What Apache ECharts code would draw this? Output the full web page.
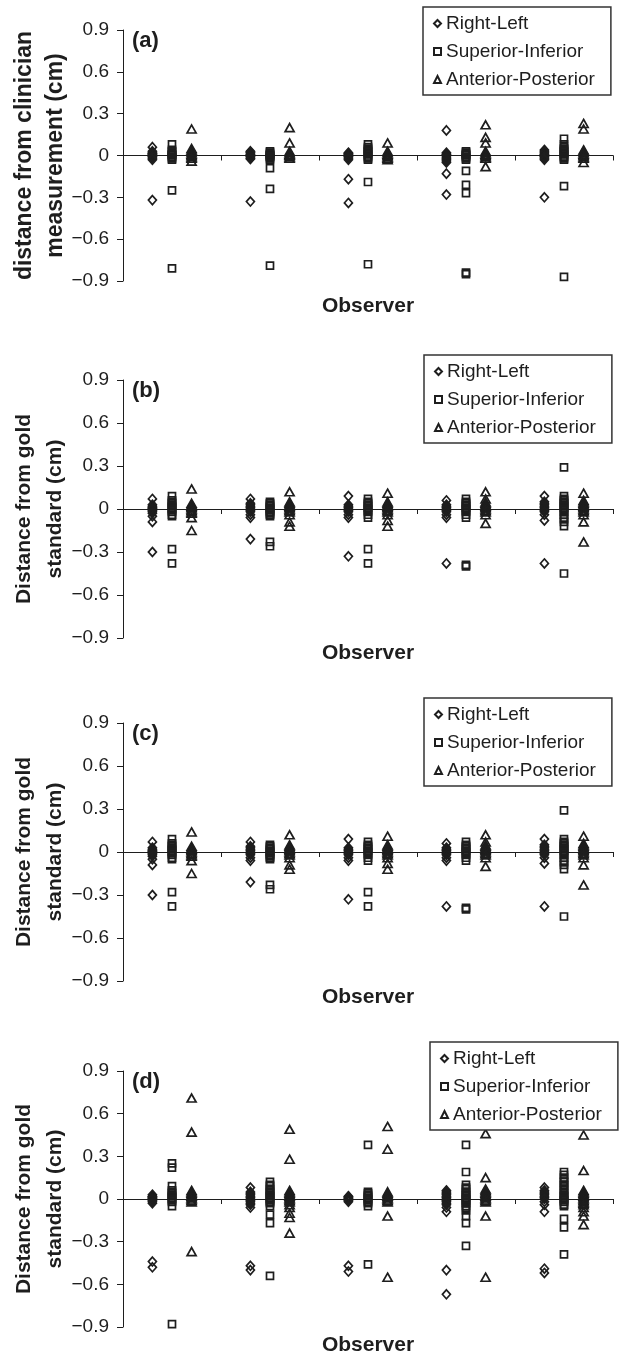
<!DOCTYPE html>
<html>
<head>
<meta charset="utf-8">
<script src="https://cdn.jsdelivr.net/npm/echarts@6/dist/echarts.min.js"></script>
<style>
html,body{margin:0;padding:0;background:#fff;}
#main{width:623px;height:1356px;}
</style>
</head>
<body>
<div id="main"></div>
<script>
var series_names=['Right-Left','Superior-Inferior','Anterior-Posterior'];
var observers=[1,2,3,4,5];
var panel_letters=['(a)','(b)','(c)','(d)'];
var panel_titles=['distance from clinician\nmeasurement (cm)','Distance from gold\nstandard (cm)','Distance from gold\nstandard (cm)','Distance from gold\nstandard (cm)'];
var x_title='Observer';

// values per observer (dense groups near 0 estimated)
var a_right_left=[
	[0.06,0.03,0.02,0.015,0.01,0.005,0,-0.005,-0.01,-0.02,-0.03,-0.32],
	[0.03,0.025,0.02,0.01,0.005,0,-0.005,-0.01,-0.02,-0.025,-0.33],
	[0.02,0.015,0.01,0.005,0,-0.005,-0.01,-0.02,-0.03,-0.17,-0.34],
	[0.18,0.02,0.01,0.005,0,-0.01,-0.02,-0.03,-0.04,-0.05,-0.13,-0.28],
	[0.04,0.03,0.02,0.01,0.005,0,-0.005,-0.01,-0.02,-0.03,-0.30]
];
var a_superior_inferior=[
	[0.08,0.04,0.03,0.02,0.01,0.005,0,-0.01,-0.02,-0.03,-0.25,-0.81],
	[0.03,0.02,0.01,0.005,0,-0.005,-0.01,-0.02,-0.03,-0.09,-0.24,-0.79],
	[0.08,0.06,0.05,0.04,0.03,0.02,0.01,0,-0.01,-0.02,-0.03,-0.19,-0.78],
	[0.03,0.02,0.01,0.005,0,-0.01,-0.02,-0.03,-0.11,-0.21,-0.27,-0.84,-0.85],
	[0.12,0.08,0.06,0.05,0.04,0.03,0.02,0.01,0,-0.01,-0.02,-0.03,-0.22,-0.87]
];
var a_anterior_posterior=[
	[0.19,0.05,0.04,0.03,0.02,0.01,0,-0.01,-0.02,-0.04],
	[0.20,0.09,0.03,0.02,0.01,0.005,0,-0.01,-0.02],
	[0.09,0.03,0.02,0.01,0,-0.01,-0.02,-0.03],
	[0.22,0.13,0.09,0.03,0.02,0.01,0,-0.01,-0.02,-0.08],
	[0.23,0.19,0.04,0.03,0.02,0.01,0,-0.01,-0.02,-0.05]
];

var b_right_left=[
	[0.07,0.03,0.02,0.01,0.005,0,-0.01,-0.02,-0.03,-0.05,-0.09,-0.30],
	[0.07,0.04,0.03,0.02,0.01,0,-0.01,-0.02,-0.04,-0.06,-0.21],
	[0.09,0.03,0.02,0.01,0,-0.01,-0.02,-0.04,-0.06,-0.33],
	[0.06,0.03,0.02,0.01,0,-0.01,-0.02,-0.04,-0.06,-0.38],
	[0.09,0.05,0.04,0.03,0.02,0.01,0,-0.01,-0.02,-0.04,-0.08,-0.38]
];
var b_superior_inferior=[
	[0.09,0.06,0.05,0.04,0.03,0.02,0.01,0,-0.01,-0.02,-0.04,-0.05,-0.28,-0.38],
	[0.05,0.04,0.03,0.02,0.01,0,-0.01,-0.02,-0.03,-0.04,-0.05,-0.23,-0.26],
	[0.07,0.05,0.04,0.03,0.02,0.01,0,-0.01,-0.02,-0.04,-0.06,-0.28,-0.38],
	[0.07,0.05,0.04,0.03,0.02,0.01,0,-0.01,-0.02,-0.04,-0.06,-0.39,-0.40],
	[0.29,0.09,0.07,0.06,0.05,0.04,0.03,0.02,0.01,0,-0.01,-0.02,-0.04,-0.06,-0.07,-0.09,-0.12,-0.45]
];
var b_anterior_posterior=[
	[0.14,0.04,0.03,0.02,0.01,0,-0.01,-0.02,-0.03,-0.06,-0.15],
	[0.12,0.05,0.04,0.03,0.02,0.01,0,-0.01,-0.02,-0.04,-0.09,-0.12],
	[0.11,0.05,0.04,0.03,0.02,0.01,0,-0.01,-0.02,-0.04,-0.08,-0.12],
	[0.12,0.07,0.05,0.04,0.03,0.02,0.01,0,-0.01,-0.02,-0.04,-0.10],
	[0.11,0.06,0.05,0.04,0.03,0.02,0.01,0,-0.01,-0.02,-0.04,-0.09,-0.23]
];

// panel (c) repeats panel (b) in the figure
var c_right_left=b_right_left;
var c_superior_inferior=b_superior_inferior;
var c_anterior_posterior=b_anterior_posterior;

var d_right_left=[
	[0.03,0.02,0.015,0.01,0.005,0,-0.01,-0.02,-0.03,-0.44,-0.48],
	[0.08,0.05,0.04,0.03,0.02,0.01,0,-0.01,-0.02,-0.03,-0.04,-0.06,-0.47,-0.50],
	[0.02,0.015,0.01,0.005,0,-0.005,-0.01,-0.02,-0.47,-0.51],
	[0.06,0.05,0.04,0.03,0.02,0.01,0,-0.01,-0.02,-0.03,-0.04,-0.06,-0.09,-0.50,-0.67],
	[0.08,0.06,0.05,0.04,0.03,0.02,0.01,0,-0.02,-0.04,-0.09,-0.49,-0.52]
];
var d_superior_inferior=[
	[0.25,0.22,0.09,0.06,0.05,0.04,0.03,0.02,0.01,0,-0.01,-0.02,-0.05,-0.88],
	[0.12,0.10,0.09,0.07,0.06,0.05,0.04,0.03,0.02,0.01,0,-0.01,-0.02,-0.03,-0.05,-0.11,-0.17,-0.54],
	[0.38,0.05,0.04,0.03,0.02,0.01,0,-0.01,-0.02,-0.03,-0.05,-0.46],
	[0.38,0.19,0.10,0.08,0.07,0.05,0.04,0.03,0.02,0.01,0,-0.01,-0.02,-0.03,-0.05,-0.06,-0.08,-0.12,-0.17,-0.33],
	[0.19,0.17,0.15,0.13,0.12,0.10,0.09,0.07,0.06,0.04,0.03,0.02,0.01,0,-0.01,-0.02,-0.04,-0.05,-0.14,-0.20,-0.39]
];
var d_anterior_posterior=[
	[0.71,0.47,0.06,0.05,0.04,0.03,0.02,0.01,0,-0.01,-0.02,-0.37],
	[0.49,0.28,0.06,0.05,0.04,0.03,0.02,0.01,0,-0.01,-0.02,-0.04,-0.06,-0.10,-0.13,-0.24],
	[0.51,0.35,0.05,0.04,0.03,0.02,0.01,0,-0.01,-0.02,-0.12,-0.55],
	[0.46,0.15,0.07,0.06,0.05,0.04,0.03,0.02,0.01,0,-0.01,-0.02,-0.12,-0.55],
	[0.45,0.20,0.06,0.05,0.04,0.03,0.02,0.01,0,-0.01,-0.02,-0.03,-0.04,-0.06,-0.09,-0.12,-0.18]
];

var panels=[
	[a_right_left,a_superior_inferior,a_anterior_posterior],
	[b_right_left,b_superior_inferior,b_anterior_posterior],
	[c_right_left,c_superior_inferior,c_anterior_posterior],
	[d_right_left,d_superior_inferior,d_anterior_posterior]
];

// layout
var grid_tops=[30,380,723,1071];
var grid_heights=[251,258,258,256];
var legend_boxes=[[423,7],[424,355],[424,698],[430,1042]];
var title_sizes=[23,21,21,21];
var observer_y=[306,653,997,1345];
var symbols=['diamond','rect','triangle'];
var symbol_sizes=[[8,9],7,[9,8]];
var x_offsets=[-0.2,0,0.2];
var FONT='"Liberation Sans", Arial, sans-serif';
var INK='#1e1e1e';

function tick_format(v){
	var r=Math.round(v*10)/10;
	if(r===0) return '0';
	return (r<0?'\u2212':'')+Math.abs(r).toFixed(1);
}

function scatter_points(groups,k){
	var pts=[];
	for(var i=0;i<groups.length;i++){
		for(var j=0;j<groups[i].length;j++)
			pts.push([observers[i]-0.5+x_offsets[k],groups[i][j]]);
	}
	return pts;
}

function build_option(){
	var option={
		backgroundColor:'#fff',
		animation:false,
		grid:[],xAxis:[],yAxis:[],legend:[],series:[],graphic:[]
	};
	for(var p=0;p<panels.length;p++){
		option.grid.push({left:123,width:490,top:grid_tops[p],height:grid_heights[p]});
		option.xAxis.push({
			type:'value',gridIndex:p,min:0,max:5,interval:1,
			axisLine:{onZero:true,lineStyle:{color:INK,width:1}},
			axisTick:{show:true,length:5,lineStyle:{color:INK}},
			axisLabel:{show:false},
			splitLine:{show:false}
		});
		option.yAxis.push({
			type:'value',gridIndex:p,min:-0.9,max:0.9,interval:0.3,
			axisLine:{show:true,lineStyle:{color:INK,width:1}},
			axisTick:{show:true,length:6,lineStyle:{color:INK}},
			axisLabel:{formatter:tick_format,fontSize:19,fontFamily:FONT,color:INK,margin:14},
			splitLine:{show:false}
		});
		option.legend.push({
			orient:'vertical',
			left:legend_boxes[p][0],top:legend_boxes[p][1],
			data:series_names,
			backgroundColor:'#fff',
			borderColor:'#333',borderWidth:1.5,borderRadius:0,
			padding:[7,16,6,10],
			itemGap:9,itemWidth:7,itemHeight:7,
			textStyle:{fontSize:19,fontFamily:FONT,color:INK},
			selectedMode:false
		});
		for(var k=0;k<3;k++){
			option.series.push({
				name:series_names[k],
				type:'scatter',
				xAxisIndex:p,yAxisIndex:p,
				symbol:symbols[k],
				symbolSize:symbol_sizes[k],
				itemStyle:{color:'transparent',borderColor:INK,borderWidth:1.7,opacity:1},
				emphasis:{disabled:true},
				data:scatter_points(panels[p][k],k)
			});
		}
		var top=grid_tops[p],h=grid_heights[p];
		option.graphic.push({
			type:'text',x:40,y:top+h/2,rotation:Math.PI/2,
			style:{text:panel_titles[p],align:'center',verticalAlign:'middle',
				fontSize:title_sizes[p],fontWeight:'bold',fontFamily:FONT,fill:INK,lineHeight:31}
		});
		option.graphic.push({
			type:'text',x:132,y:top+11,
			style:{text:panel_letters[p],align:'left',verticalAlign:'middle',
				fontSize:22,fontWeight:'bold',fontFamily:FONT,fill:INK}
		});
		option.graphic.push({
			type:'text',x:368,y:observer_y[p],
			style:{text:x_title,align:'center',verticalAlign:'middle',
				fontSize:21,fontWeight:'bold',fontFamily:FONT,fill:INK}
		});
	}
	return option;
}

var myChart=echarts.init(document.getElementById('main'),null,{renderer:'canvas'});
myChart.setOption(build_option());
</script>
</body>
</html>
